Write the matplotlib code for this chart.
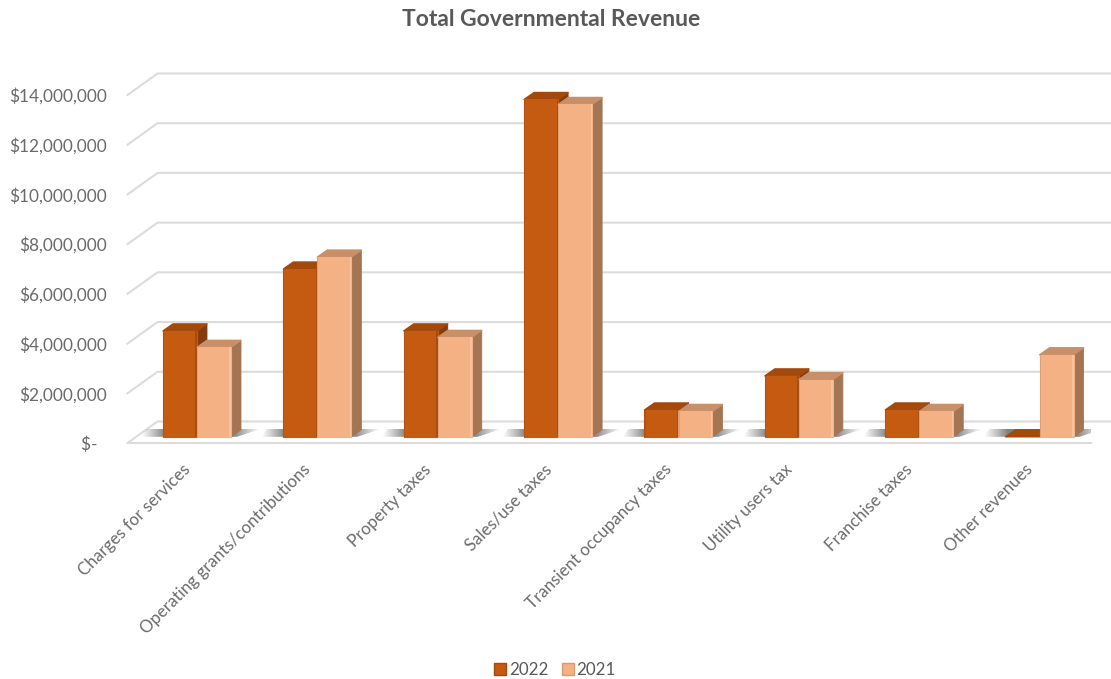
import numpy as np
from matplotlib import pyplot as plt
from matplotlib.patches import Patch, Polygon, Rectangle
from matplotlib.transforms import ScaledTranslation

categories = ['Charges for services', 'Operating grants/contributions', 'Property taxes',
              'Sales/use taxes', 'Transient occupancy taxes', 'Utility users tax',
              'Franchise taxes', 'Other revenues']
rev_2022 = [4260000, 6750000, 4260000, 13570000, 1080000, 2450000, 1080000, 0]
rev_2021 = [3600000, 7230000, 4000000, 13370000, 1020000, 2300000, 1020000, 3300000]
y_ticks = [0, 2000000, 4000000, 6000000, 8000000, 10000000, 12000000, 14000000]
y_labels = ['$-  ', '$2,000,000', '$4,000,000', '$6,000,000', '$8,000,000',
            '$10,000,000', '$12,000,000', '$14,000,000']

plt.rcParams['font.family'] = ['Lato', 'DejaVu Sans']

W, H = 1111, 679
fig = plt.figure(figsize=(W / 100, H / 100), dpi=100)
ax = fig.add_axes([127.5 / W, 1 - 443 / H, 963 / W, 348 / H])
ax.set_xlim(-0.5, 7.5)
ax.set_ylim(0, 14000000)

# pixel sizes converted to data units
px_x = 8 / 963
px_y = 14000000 / 348
floor_dx, floor_dy = 30 * px_x, 21.5 * px_y
bar_dx, bar_dy = 10 * px_x, 7 * px_y
off_x, off_y = 9.3 * px_x, 6.2 * px_y
bar_w = 34 * px_x
bevel = 1.6 * px_x

# walls and floor lines
grid_col = '#dcdcdc'
for v in y_ticks:
    ax.plot([-0.5, -0.5 + floor_dx, 7.5 + floor_dx], [v, v + floor_dy, v + floor_dy],
            color=grid_col, lw=1.5, clip_on=False, zorder=1, solid_joinstyle='miter')
ax.plot([-0.5, 7.5], [0, 0], color=grid_col, lw=1.5, clip_on=False, zorder=1)


def floor_shadow(left, right):
    # soft shadow on the floor around one bar group
    x0, x1 = left - 22 * px_x, right + 30 * px_x
    y0, y1 = off_y, off_y + 8 * px_y
    xs = np.linspace(x0, x1, 240)
    ramp = np.minimum(np.clip((xs - x0) / (24 * px_x), 0, 1),
                      np.clip((x1 - xs) / (28 * px_x), 0, 1))
    rgba = np.zeros((1, 240, 4))
    rgba[..., :3] = 0.45
    rgba[..., 3] = 0.9 * ramp ** 1.1
    im = ax.imshow(rgba, extent=[x0, x1, y0, y1], aspect='auto', zorder=2,
                   interpolation='bilinear')
    clip = Polygon([(x0, y0), (right + 6 * px_x, y0), (x1, y1), (x0 + 6 * px_x, y1)],
                   transform=ax.transData)
    im.set_clip_path(clip)


def draw_bar(x0, val, face, top, side, edge_l, edge_r, z):
    y0 = off_y
    y1 = off_y + val
    x1 = x0 + bar_w
    ax.add_patch(Polygon([(x1, y0), (x1 + bar_dx, y0 + bar_dy), (x1 + bar_dx, y1 + bar_dy), (x1, y1)],
                         fc=side, ec=side, lw=0.6, joinstyle='round', clip_on=False, zorder=z))
    ax.add_patch(Polygon([(x0, y1), (x0 + bar_dx, y1 + bar_dy), (x1 + bar_dx, y1 + bar_dy), (x1, y1)],
                         fc=top, ec=top, lw=1.0, joinstyle='round', clip_on=False, zorder=z))
    if val > 0:
        ax.bar(x0, val, bar_w, bottom=y0, align='edge', color=face, zorder=z + 0.1, clip_on=False,
               edgecolor=face, linewidth=0.8, joinstyle='round')
        ax.add_patch(Rectangle((x0, y0), bevel * 0.7, val, fc=edge_l, ec='none', clip_on=False, zorder=z + 0.2))
        ax.add_patch(Rectangle((x1 - bevel, y0), bevel, val, fc=edge_r, ec='none', clip_on=False, zorder=z + 0.2))


positions = np.arange(len(categories))
for i in positions:
    left = i + off_x - bar_w
    floor_shadow(left, left + 2 * bar_w)
for i in positions:
    left = i + off_x - bar_w
    draw_bar(left, rev_2022[i], '#c55a11', '#a3490b', '#843c0c', '#b5520f', '#a54c0e', 3 + i)
    draw_bar(left + bar_w, rev_2021[i], '#f4b183', '#c98f68', '#a37553', '#e0a077', '#f8c29c', 3.4 + i)

ax.set_xlim(-0.5, 7.5)
ax.set_ylim(0, 14000000)

ax.set_yticks(y_ticks)
ax.set_yticklabels(y_labels, fontsize=12.4, color='#6b6b6b')
ax.set_xticks(positions)
ax.set_xticklabels(categories, fontsize=12.2, color='#6b6b6b', rotation=45,
                   ha='right', va='top', rotation_mode='anchor')
ax.tick_params(axis='y', length=0, pad=15)
ax.tick_params(axis='x', length=0, pad=13)
shift = ScaledTranslation(-4 / 72, 0, fig.dpi_scale_trans)
for lab in ax.get_xticklabels():
    lab.set_transform(lab.get_transform() + shift)
for s in ax.spines.values():
    s.set_visible(False)
ax.patch.set_alpha(0)

fig.text(551 / W, 1 - 19.5 / H, 'Total Governmental Revenue', ha='center', va='center',
         fontsize=16.5, fontweight='bold', color='#595959')

handles = [Patch(fc='#c55a11', ec='#a3490b', label='2022'),
           Patch(fc='#f4b183', ec='#d99a70', label='2021')]
fig.legend(handles=handles, loc='center', bbox_to_anchor=(555 / W, 1 - 670 / H), ncol=2,
           frameon=False, fontsize=12.2, labelcolor='#595959', handlelength=0.7,
           handleheight=0.7, handletextpad=0.15, columnspacing=0.8)

fig.savefig('out.png', dpi=100)
